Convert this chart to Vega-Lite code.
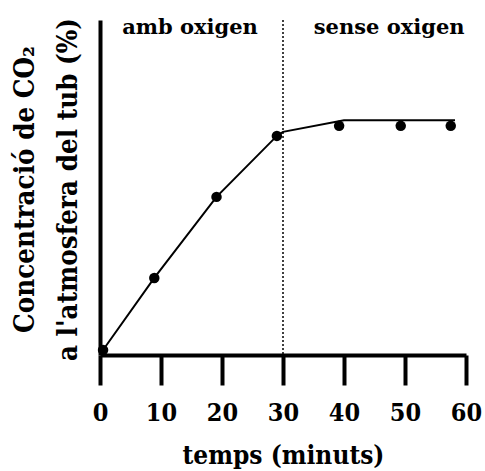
{
  "$schema": "https://vega.github.io/schema/vega-lite/v6.json",
  "autosize": "none",
  "width": 366,
  "height": 335,
  "padding": {"left": 100, "top": 20, "right": 19, "bottom": 116},
  "background": "white",
  "config": {
    "view": {"stroke": null},
    "axis": {"grid": false, "domainColor": "black", "tickColor": "black", "labelColor": "black", "titleColor": "black"}
  },
  "datasets": {
    "points": [
      {"t": 0.5, "co2": 1.5},
      {"t": 8.9, "co2": 23},
      {"t": 19.1, "co2": 47.2},
      {"t": 29, "co2": 65.4},
      {"t": 39.2, "co2": 68.4},
      {"t": 49.3, "co2": 68.4},
      {"t": 57.5, "co2": 68.4}
    ],
    "curve": [
      {"t": 0.5, "co2": 1.5},
      {"t": 8.9, "co2": 23},
      {"t": 19.1, "co2": 47.2},
      {"t": 29, "co2": 65.4},
      {"t": 30, "co2": 66.6},
      {"t": 40, "co2": 70.1},
      {"t": 58.2, "co2": 70.1}
    ],
    "phases": [
      {"t": 14.75, "co2": 97.5, "label": "amb oxigen"},
      {"t": 47.4, "co2": 97.5, "label": "sense oxigen"}
    ],
    "switch": [{"t": 30}]
  },
  "layer": [
    {
      "data": {"name": "switch"},
      "mark": {"type": "rule", "strokeDash": [2, 2], "strokeWidth": 1.5, "color": "black"},
      "encoding": {
        "x": {"field": "t", "type": "quantitative", "scale": {"domain": [0, 60]}}
      }
    },
    {
      "data": {"name": "curve"},
      "mark": {"type": "line", "color": "black", "strokeWidth": 2},
      "encoding": {
        "x": {"field": "t", "type": "quantitative", "scale": {"domain": [0, 60]},
          "axis": {
            "values": [0, 10, 20, 30, 40, 50, 60],
            "tickSize": 30, "tickWidth": 4, "domainWidth": 4,
            "labelFont": "DejaVu Serif Condensed", "labelFontSize": 25, "labelFontWeight": "bold",
            "labelPadding": 15, "labelFlush": false,
            "title": "temps (minuts)",
            "titleFont": "DejaVu Serif Condensed", "titleFontSize": 26, "titleFontWeight": "bold",
            "titlePadding": 17
          }
        },
        "y": {"field": "co2", "type": "quantitative", "scale": {"domain": [0, 100]},
          "axis": {
            "ticks": false, "labels": false, "domainWidth": 4,
            "title": ["Concentració de CO₂", "a l'atmosfera del tub (%)"],
            "titleFont": "DejaVu Serif Condensed", "titleFontSize": 27.5, "titleFontWeight": "bold",
            "titleLineHeight": 43,
            "titleAngle": -90,
            "titleAlign": "center",
            "titleBaseline": "middle",
            "titleX": -75,
            "titleY": 169
          }
        }
      }
    },
    {
      "data": {"name": "points"},
      "mark": {"type": "point", "filled": true, "color": "black", "size": 110, "opacity": 1},
      "encoding": {
        "x": {"field": "t", "type": "quantitative"},
        "y": {"field": "co2", "type": "quantitative"}
      }
    },
    {
      "data": {"name": "phases"},
      "mark": {"type": "text", "font": "DejaVu Serif", "fontSize": 21, "fontWeight": "bold", "color": "black", "baseline": "middle"},
      "encoding": {
        "x": {"field": "t", "type": "quantitative"},
        "y": {"field": "co2", "type": "quantitative"},
        "text": {"field": "label"}
      }
    }
  ]
}
